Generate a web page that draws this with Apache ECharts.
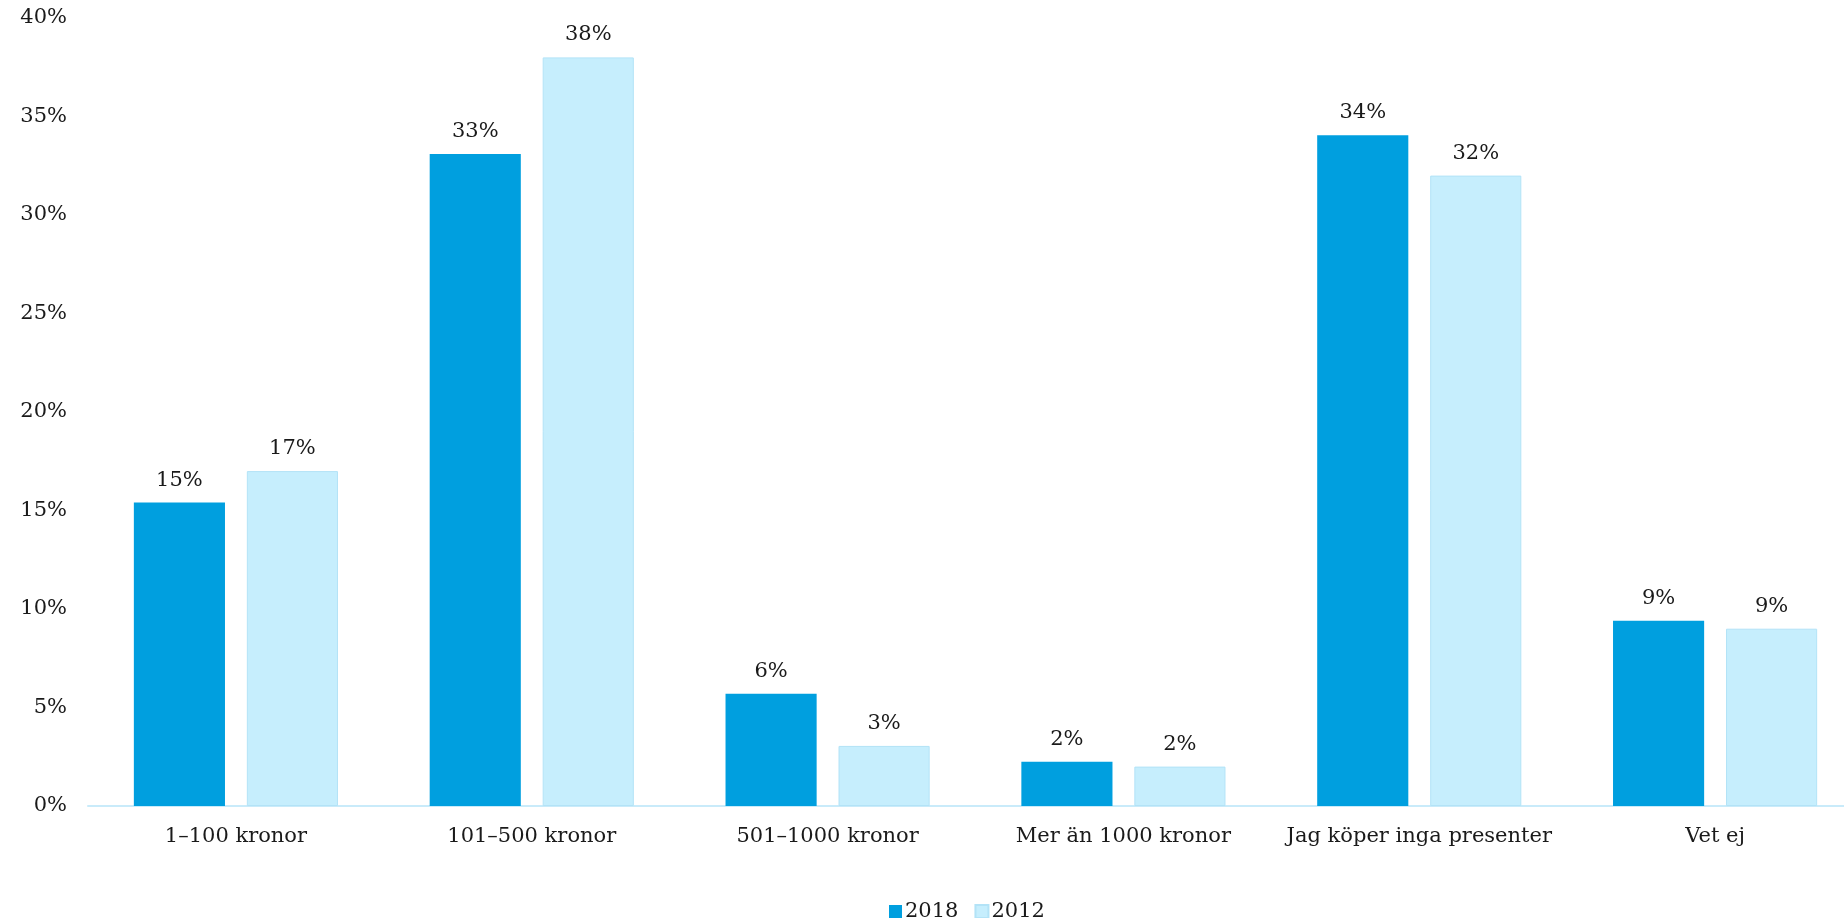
<!DOCTYPE html>
<html>
<head>
<meta charset="utf-8">
<script src="https://cdn.jsdelivr.net/npm/echarts@6/dist/echarts.min.js"></script>
<style>html,body{margin:0;padding:0;background:#fff}#c{width:1844px;height:918px}</style>
</head>
<body>
<div id="c"></div>
<script>
const categories = ['1–100 kronor', '101–500 kronor', '501–1000 kronor', 'Mer än 1000 kronor', 'Jag köper inga presenter', 'Vet ej'];
const series2018 = [15.4, 33.1, 5.7, 2.25, 34.05, 9.4];
const series2012 = [17.0, 38.0, 3.05, 2.0, 32.0, 9.0];
const yTicks = [0, 5, 10, 15, 20, 25, 30, 35, 40];

const font = 'DejaVu Serif';
const chart = echarts.init(document.getElementById('c'));
chart.setOption({
  animation: false,
  textStyle: { fontFamily: font },
  legend: {
    left: 884, top: 896,
    itemWidth: 13, itemHeight: 13, itemGap: 16,
    icon: 'rect',
    textStyle: { fontFamily: font, fontSize: 21, color: '#1a1a1a', padding: [0, 0, 0, -2] },
    data: ['2018', '2012']
  },
  grid: { left: 88, top: 18, width: 1775, height: 788, containLabel: false, outerBoundsMode: 'none' },
  xAxis: {
    type: 'category',
    data: categories,
    axisLine: { lineStyle: { color: '#c9ebfa', width: 2 } },
    axisTick: { show: false },
    axisLabel: { interval: 0, fontFamily: font, fontSize: 21, color: '#1a1a1a', margin: 20 }
  },
  yAxis: {
    type: 'value',
    min: yTicks[0], max: yTicks[yTicks.length - 1], interval: 5,
    splitLine: { show: false },
    axisLine: { show: false },
    axisTick: { show: false },
    axisLabel: { fontFamily: font, fontSize: 21, color: '#1a1a1a', margin: 21, formatter: v => v + '%' }
  },
  series: [
    {
      name: '2018', type: 'bar', data: series2018,
      barGap: '24%', barCategoryGap: '31%',
      itemStyle: { color: '#009fdf' },
      label: { show: true, position: 'top', distance: 12, fontFamily: font, fontSize: 21, color: '#1a1a1a', formatter: p => Math.round(p.value) + '%' }
    },
    {
      name: '2012', type: 'bar', data: series2012,
      itemStyle: { color: '#c6eefd', borderColor: '#b3e3f7', borderWidth: 1 },
      label: { show: true, position: 'top', distance: 12, fontFamily: font, fontSize: 21, color: '#1a1a1a', formatter: p => Math.round(p.value) + '%' }
    }
  ]
});
</script>
</body>
</html>
